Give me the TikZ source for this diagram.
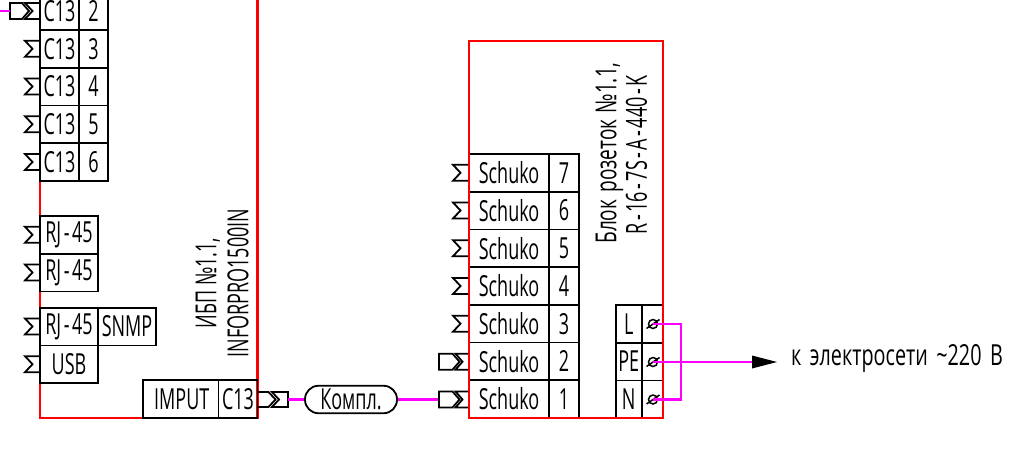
\documentclass[tikz,border=0pt]{standalone}
\usepackage{graphicx}
\usepackage{fontspec}
\setmainfont[FakeStretch=0.62]{Open Sans}
\definecolor{mag}{RGB}{255,0,255}
\definecolor{pure}{RGB}{255,0,0}
\newcommand{\hy}{\kern2.5pt-\kern2.5pt}
\tikzset{
  x=1pt,y=-1pt,
  blk/.style={line width=1.8pt,draw=black},
  cell/.style={blk,rectangle,anchor=north west,inner sep=0pt,outer sep=0pt,font=\fontsize{29}{29}\selectfont,text=black,align=center},
  label/.style={inner sep=0pt,font=\fontsize{29}{32}\selectfont,text=black,align=center},
  redbox/.style={line width=2.4pt,draw=pure},
  wire/.style={line width=2.2pt,draw=mag},
  sockpic/.pic={\draw[blk,line join=miter] (0,-8)--(-15,-8)--(-7.5,0)--(-15,8)--(0,8);},
  sockshort/.pic={\draw[blk,line join=miter] (0,-8)--(-12.5,-8)--(-5.5,0)--(-12.5,8)--(0,8);},
  termpic/.pic={\draw[blk,line width=1.5pt] (0,0) circle (4.5);\draw[blk,line width=1.5pt] (-6.5,4.5)--(6.5,-4.5);}
}
\newcommand{\mycell}[6]{\node[cell,minimum width=#4 pt,minimum height=#5 pt] (#1) at (#2,#3) {#6};}
\begin{document}
\begin{tikzpicture}
\clip (0,0) rectangle (1016,450);
\fill[white] (0,0) rectangle (1016,450);
% UPS frame
\draw[redbox] (40,-10)--(40,418)--(257.5,418)--(257.5,-10);
\mycell{cA}{40}{-8}{39}{38}{C13}\mycell{nA}{79}{-8}{29}{38}{2}
\mycell{cB}{40}{30}{39}{37.7}{C13}\mycell{nB}{79}{30}{29}{37.7}{3}
\mycell{cC}{40}{67.7}{39}{37.7}{C13}\mycell{nC}{79}{67.7}{29}{37.7}{4}
\mycell{cD}{40}{105.4}{39}{37.7}{C13}\mycell{nD}{79}{105.4}{29}{37.7}{5}
\mycell{cE}{40}{143.1}{39}{38}{C13}\mycell{nE}{79}{143.1}{29}{38}{6}
\mycell{rA}{40}{216}{58}{37.7}{RJ\hy45}
\mycell{rB}{40}{253.7}{58}{37.7}{RJ\hy45}
\mycell{rC}{40}{307.7}{58}{37.7}{RJ\hy45}\mycell{sn}{98}{307.7}{58}{37.7}{SNMP}
\mycell{us}{40}{345.4}{58}{37.7}{USB}
\mycell{imp}{143}{380}{75.5}{38}{\hspace*{2pt}IMPUT}\mycell{cIn}{218.5}{380}{39}{38}{C13}
\node[label,rotate=90] (upsA) at (208,283) {ИБП №1.1,};
\node[label,rotate=90] (upsB) at (238,283) {INFORPRO1500IN};
% sockets left
\pic at (40,11) {sockpic};
\pic at (40,48.8) {sockpic};
\pic at (40,86.5) {sockpic};
\pic at (40,124.2) {sockpic};
\pic at (40,162) {sockpic};
\pic at (40,234.8) {sockpic};
\pic at (40,272.5) {sockpic};
\pic at (40,326.5) {sockpic};
\pic at (40,364.2) {sockpic};
\draw[blk] (10,3)--(22,3)--(29,11)--(22,19)--(10,19)--cycle;
\coordinate (lp) at (10,11);
\coordinate (lw) at (0,11);
\draw[wire] (lw)--(lp);
% input connector
\draw[blk] (258,392)--(268.5,392)--(275.5,399.5)--(268.5,407)--(258,407);
\draw[blk] (288,392)--(272,392)--(279,399.5)--(272,407)--(288,407)--cycle;
\coordinate (inR) at (288,399.5);
\node[blk,rounded corners=13.5pt,minimum width=92pt,minimum height=27.5pt,inner sep=0pt,font=\fontsize{29}{29}\selectfont] (k) at (351,399.5) {Компл.};
\coordinate (pA) at (439,399.5);
\draw[wire] (inR)--(k.west);
\draw[wire] (k.east)--(pA);
% outlet block cells
\mycell{s7}{469}{154}{80}{37.7}{Schuko}\mycell{m7}{549}{154}{30}{37.7}{7}
\mycell{s6}{469}{191.7}{80}{37.7}{Schuko}\mycell{m6}{549}{191.7}{30}{37.7}{6}
\mycell{s5}{469}{229.4}{80}{37.7}{Schuko}\mycell{m5}{549}{229.4}{30}{37.7}{5}
\mycell{s4}{469}{267.1}{80}{37.7}{Schuko}\mycell{m4}{549}{267.1}{30}{37.7}{4}
\mycell{s3}{469}{304.8}{80}{37.7}{Schuko}\mycell{m3}{549}{304.8}{30}{37.7}{3}
\mycell{s2}{469}{342.5}{80}{37.7}{Schuko}\mycell{m2}{549}{342.5}{30}{37.7}{2}
\mycell{s1}{469}{380.2}{80}{37.8}{Schuko}\mycell{m1}{549}{380.2}{30}{37.8}{1}
\mycell{tL}{615.7}{305}{26}{37.7}{L}\mycell{oL}{641.7}{305}{21.3}{37.7}{}
\mycell{tP}{615.7}{342.7}{26}{37.7}{PE}\mycell{oP}{641.7}{342.7}{21.3}{37.7}{}
\mycell{tN}{615.7}{380.4}{26}{37.6}{N}\mycell{oN}{641.7}{380.4}{21.3}{37.6}{}
\draw[redbox] (469,41) rectangle (663,418);
\node[label,rotate=90] (blA) at (609.5,153) {\scalebox{1.06}[1]{Блок\kern2pt{} розеток\kern1pt{} №1.1,}};
\node[label,rotate=90] (blB) at (636.5,155) {R\hy16\hy7S\hy A\hy440\hy K};
\pic at (468,172.8) {sockpic};
\pic at (468,210.5) {sockpic};
\pic at (468,248.2) {sockpic};
\pic at (468,286) {sockpic};
\pic at (468,323.7) {sockpic};
\pic at (468,361.7) {sockshort};
\pic at (468,399.5) {sockshort};
\draw[blk] (439,353.7)--(452.5,353.7)--(459.5,361.7)--(452.5,369.7)--(439,369.7)--cycle;
\draw[blk] (439,391.5)--(452.5,391.5)--(459.5,399.5)--(452.5,407.5)--(439,407.5)--cycle;
% terminals
\pic at (653,324) {termpic};
\pic at (653,362) {termpic};
\pic at (653,399.5) {termpic};
\coordinate (aL) at (653,324);
\coordinate (aP) at (653,362);
\coordinate (aN) at (653,399.5);
\draw[wire] (aL)--(681,324)--(681,399.5)--(aN);
\node[inner sep=0pt,anchor=west,font=\fontsize{29}{29}\selectfont] (out) at (791,358) {\scalebox{1.1}[1]{к\kern3pt{} электросети\kern3pt{} \textasciitilde220\kern3pt{} В}};
\coordinate (tip) at (777,362);
\draw[wire] (aP)--(752,362);
\fill[black] (752,355.5)--(tip)--(752,368.5)--cycle;
\end{tikzpicture}
\end{document}
